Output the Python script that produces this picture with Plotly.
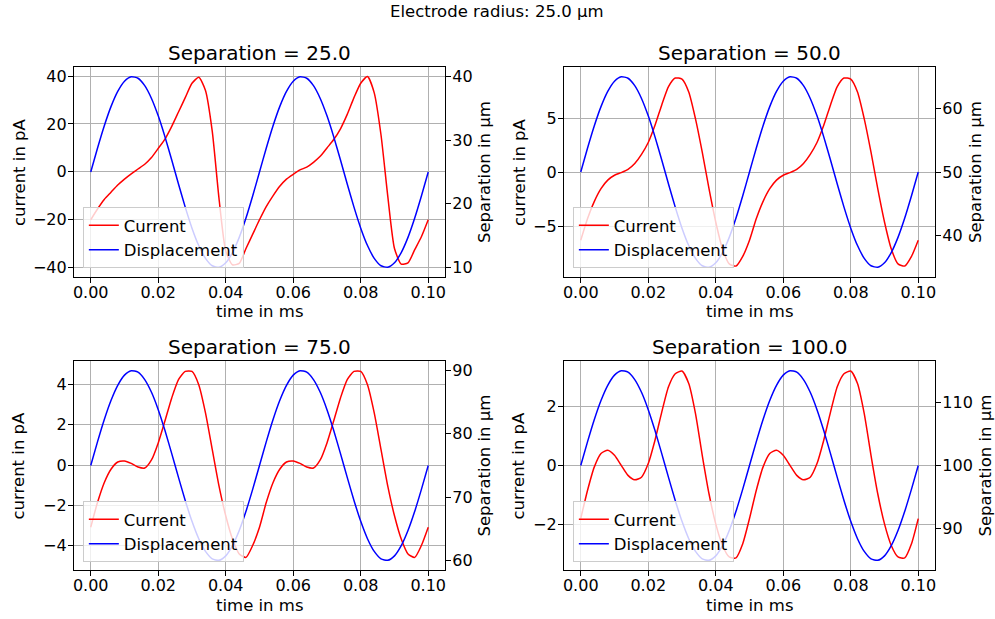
import plotly.graph_objects as go

# ---------------- data ----------------
time_ms = [0.000, 0.002, 0.004, 0.006, 0.008, 0.010, 0.012, 0.014, 0.016, 0.018,
           0.020, 0.022, 0.024, 0.026, 0.028, 0.030, 0.032, 0.034, 0.036, 0.038,
           0.040, 0.042, 0.044, 0.046, 0.048, 0.050, 0.052, 0.054, 0.056, 0.058,
           0.060, 0.062, 0.064, 0.066, 0.068, 0.070, 0.072, 0.074, 0.076, 0.078,
           0.080, 0.082, 0.084, 0.086, 0.088, 0.090, 0.092, 0.094, 0.096, 0.098,
           0.100]

separations = [25.0, 50.0, 75.0, 100.0]
electrode_radius = 25.0

current_25 = [-20.0, -15.5, -11.5, -8.5, -5.5, -3.0, -0.8, 1.2, 3.2, 6.0,
              9.8, 13.7, 19.0, 25.0, 31.0, 37.0, 39.5, 34.0, 17.0, -11.0,
              -33.0, -38.8, -38.2, -32.0, -26.0, -20.0, -14.5, -10.0, -6.0, -3.0,
              -1.0, 0.8, 2.0, 4.0, 6.5, 10.0, 13.5, 18.0, 24.0, 31.0,
              37.0, 39.8, 33.0, 15.5, -10.0, -32.0, -38.5, -38.0, -32.5, -27.0,
              -20.0]
disp_25 = [25.00, 28.73, 32.23, 35.27, 37.66, 39.27, 39.97, 39.73, 38.57, 36.56,
           33.82, 30.52, 26.88, 23.12, 19.48, 16.18, 13.44, 11.43, 10.27, 10.03,
           10.73, 12.34, 14.73, 17.77, 21.27, 25.00, 28.73, 32.23, 35.27, 37.66,
           39.27, 39.97, 39.73, 38.57, 36.56, 33.82, 30.52, 26.88, 23.12, 19.48,
           16.18, 13.44, 11.43, 10.27, 10.03, 10.73, 12.34, 14.73, 17.77, 21.27,
           25.00]

current_50 = [-6.3, -4.3, -2.7, -1.5, -0.7, -0.25, 0.0, 0.3, 0.85, 1.7,
              2.8, 4.4, 6.3, 8.0, 8.8, 8.7, 7.5, 5.0, 1.9, -1.5,
              -4.6, -7.1, -8.5, -8.7, -7.8, -6.3, -4.3, -2.7, -1.5, -0.7,
              -0.25, 0.0, 0.3, 0.85, 1.7, 2.8, 4.4, 6.3, 8.0, 8.8,
              8.7, 7.5, 5.0, 1.9, -1.5, -4.6, -7.1, -8.5, -8.7, -7.8,
              -6.3]
disp_50 = [50.00, 53.73, 57.23, 60.27, 62.66, 64.27, 64.97, 64.73, 63.57, 61.56,
           58.82, 55.52, 51.88, 48.12, 44.48, 41.18, 38.44, 36.43, 35.27, 35.03,
           35.73, 37.34, 39.73, 42.77, 46.27, 50.00, 53.73, 57.23, 60.27, 62.66,
           64.27, 64.97, 64.73, 63.57, 61.56, 58.82, 55.52, 51.88, 48.12, 44.48,
           41.18, 38.44, 36.43, 35.27, 35.03, 35.73, 37.34, 39.73, 42.77, 46.27,
           50.00]

current_75 = [-3.1, -1.87, -0.88, -0.21, 0.15, 0.2, 0.08, -0.1, -0.15, 0.25,
              1.1, 2.2, 3.34, 4.25, 4.66, 4.66, 4.0, 2.6, 0.78, -1.04,
              -2.53, -3.69, -4.43, -4.6, -4.0, -3.1, -1.87, -0.88, -0.21, 0.15,
              0.2, 0.08, -0.1, -0.15, 0.25, 1.1, 2.2, 3.34, 4.25, 4.66,
              4.66, 4.0, 2.6, 0.78, -1.04, -2.53, -3.69, -4.43, -4.6, -4.0,
              -3.1]
disp_75 = [75.00, 78.73, 82.23, 85.27, 87.66, 89.27, 89.97, 89.73, 88.57, 86.56,
           83.82, 80.52, 76.88, 73.12, 69.48, 66.18, 63.44, 61.43, 60.27, 60.03,
           60.73, 62.34, 64.73, 67.77, 71.27, 75.00, 78.73, 82.23, 85.27, 87.66,
           89.27, 89.97, 89.73, 88.57, 86.56, 83.82, 80.52, 76.88, 73.12, 69.48,
           66.18, 63.44, 61.43, 60.27, 60.03, 60.73, 62.34, 64.73, 67.77, 71.27,
           75.00]

current_100 = [-1.8, -0.85, -0.06, 0.4, 0.51, 0.34, 0.0, -0.34, -0.49, -0.4,
               0.06, 0.85, 1.8, 2.66, 3.1, 3.19, 2.77, 1.75, 0.34, -0.96,
               -1.98, -2.71, -3.1, -3.13, -2.65, -1.8, -0.85, -0.06, 0.4, 0.51,
               0.34, 0.0, -0.34, -0.49, -0.4, 0.06, 0.85, 1.8, 2.66, 3.1,
               3.19, 2.77, 1.75, 0.34, -0.96, -1.98, -2.71, -3.1, -3.13, -2.65,
               -1.8]
disp_100 = [100.00, 103.73, 107.23, 110.27, 112.66, 114.27, 114.97, 114.73, 113.57, 111.56,
            108.82, 105.52, 101.88, 98.12, 94.48, 91.18, 88.44, 86.43, 85.27, 85.03,
            85.73, 87.34, 89.73, 92.77, 96.27, 100.00, 103.73, 107.23, 110.27, 112.66,
            114.27, 114.97, 114.73, 113.57, 111.56, 108.82, 105.52, 101.88, 98.12, 94.48,
            91.18, 88.44, 86.43, 85.27, 85.03, 85.73, 87.34, 89.73, 92.77, 96.27,
            100.00]

currents = [current_25, current_50, current_75, current_100]
displacements = [disp_25, disp_50, disp_75, disp_100]

x_ticks = [0.00, 0.02, 0.04, 0.06, 0.08, 0.10]

# ---------------- layout helpers ----------------
W, H = 995, 619
FONT = "DejaVu Sans"
TICK_SIZE = 16
LABEL_SIZE = 16.5
TITLE_SIZE = 20

# pixel boxes of the four axes: (left, right, top, bottom)
boxes = [(73, 445, 67, 277), (564, 936, 67, 277),
         (73, 445, 361, 570), (564, 936, 361, 570)]
left_ranges = [[-43.9, 43.8], [-9.72, 9.83], [-5.23, 5.18], [-3.54, 3.53]]
left_dtick = [20, 5, 2, 2]
right_ranges = [[8.5, 41.5], [33.5, 66.5], [58.5, 91.5], [83.5, 116.5]]
title_y = [53, 53, 346.5, 346.5]
xlabel_y = [311.5, 311.5, 605, 605]
ylabel_x = [18, 519, 18, 519]
y2label_x = [484, 976, 484, 986]
legend_boxes = [(82, 268), (573, 268), (82, 562), (573, 562)]

fig = go.Figure()
layout = dict(
    width=W, height=H,
    margin=dict(l=0, r=0, t=0, b=0),
    paper_bgcolor="white", plot_bgcolor="white",
    font=dict(family=FONT, size=LABEL_SIZE, color="black"),
    showlegend=True,
)
annotations = []

axis_common = dict(
    showline=True, linecolor="black", linewidth=1,
    ticks="outside", ticklen=5, tickwidth=1, tickcolor="black",
    tickfont=dict(family=FONT, size=TICK_SIZE, color="black"),
    zeroline=False,
)

for i in range(4):
    l, r, t, b = boxes[i]
    xd = [l / W, r / W]
    yd = [1 - b / H, 1 - t / H]
    xn = "x" if i == 0 else f"x{i+1}"
    y1n = "y" if i == 0 else f"y{2*i+1}"
    y2n = f"y{2*i+2}"
    xkey = "xaxis" if i == 0 else f"xaxis{i+1}"
    y1key = "yaxis" if i == 0 else f"yaxis{2*i+1}"
    y2key = f"yaxis{2*i+2}"
    leg = "legend" if i == 0 else f"legend{i+1}"

    layout[xkey] = dict(domain=xd, anchor=y1n, range=[-0.005, 0.105],
                        tickvals=x_ticks, tickformat=".2f", ticklabelstandoff=-4,
                        showgrid=True, gridcolor="#b0b0b0", gridwidth=0.8,
                        mirror=True, **axis_common)
    layout[y1key] = dict(domain=yd, anchor=xn, range=left_ranges[i],
                         dtick=left_dtick[i], tick0=0, ticklabelstandoff=-2,
                         showgrid=True, gridcolor="#b0b0b0", gridwidth=0.8,
                         mirror=True, **axis_common)
    layout[y2key] = dict(domain=yd, anchor=xn, overlaying=y1n, side="right",
                         range=right_ranges[i], dtick=10, tick0=0, ticklabelstandoff=-2,
                         showgrid=False, **axis_common)

    lx, lb = legend_boxes[i]
    layout[leg] = dict(x=lx / W, y=1 - lb / H, xanchor="left", yanchor="bottom",
                       bgcolor="rgba(255,255,255,0.8)", bordercolor="#cccccc",
                       borderwidth=1, font=dict(family=FONT, size=LABEL_SIZE, color="black"),
                       tracegroupgap=2, traceorder="normal")

    fig.add_trace(go.Scatter(x=time_ms, y=currents[i], mode="lines", name="Current",
                             line=dict(color="#ff0000", width=1.5, shape="spline", smoothing=0.6),
                             xaxis=xn, yaxis=y1n, legend=leg, legendgroup=f"c{i}"))
    fig.add_trace(go.Scatter(x=time_ms, y=displacements[i], mode="lines", name="Displacement",
                             line=dict(color="#0000ff", width=1.5, shape="spline", smoothing=0.6),
                             xaxis=xn, yaxis=y2n, legend=leg, legendgroup=f"d{i}"))

    cx = (l + r) / 2 / W
    annotations.append(dict(text=f"Separation = {separations[i]:.1f}", x=cx, y=1 - title_y[i] / H,
                            xref="paper", yref="paper", xanchor="center", yanchor="middle",
                            showarrow=False, font=dict(family=FONT, size=TITLE_SIZE, color="black")))
    annotations.append(dict(text="time in ms", x=cx, y=1 - xlabel_y[i] / H,
                            xref="paper", yref="paper", xanchor="center", yanchor="middle",
                            showarrow=False, font=dict(family=FONT, size=LABEL_SIZE, color="black")))
    cy = 1 - (t + b) / 2 / H
    annotations.append(dict(text="current in pA", x=ylabel_x[i] / W, y=cy, textangle=-90,
                            xref="paper", yref="paper", xanchor="center", yanchor="middle",
                            showarrow=False, font=dict(family=FONT, size=LABEL_SIZE, color="black")))
    annotations.append(dict(text="Separation in µm", x=y2label_x[i] / W, y=cy, textangle=-90,
                            xref="paper", yref="paper", xanchor="center", yanchor="middle",
                            showarrow=False, font=dict(family=FONT, size=LABEL_SIZE, color="black")))

annotations.append(dict(text=f"Electrode radius: {electrode_radius:.1f} µm", x=0.499, y=1 - 12 / H,
                        xref="paper", yref="paper", xanchor="center", yanchor="middle",
                        showarrow=False, font=dict(family=FONT, size=LABEL_SIZE, color="black")))

layout["annotations"] = annotations
fig.update_layout(**layout)
fig.write_html("out.html", config={"displayModeBar": False},
               post_script="document.body.style.margin='0';document.body.style.padding='0';")
